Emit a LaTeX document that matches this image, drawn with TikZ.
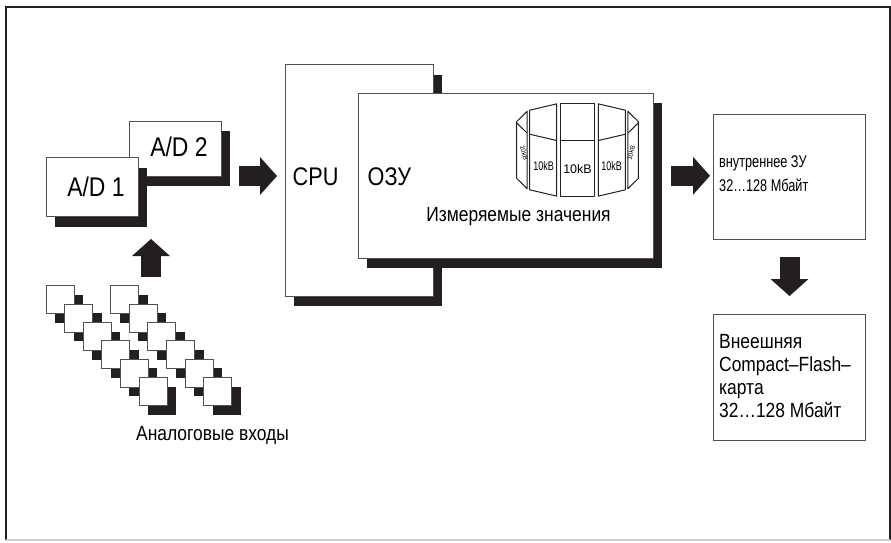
\documentclass[tikz,border=0pt]{standalone}
\usepackage{fontspec}
\setmainfont{Liberation Sans}[FakeStretch=0.85]
\newfontfamily\kbfont{Liberation Sans}
\usetikzlibrary{arrows.meta,shadows}
\definecolor{ink}{HTML}{231F20}
\definecolor{edge}{HTML}{505050}
\begin{document}
\begin{tikzpicture}[x=1pt, y=-1pt,
	box/.style={draw=edge, line width=1pt, fill=white, inner sep=0pt, outer sep=0pt, anchor=north west},
	shadowed/.style={box, drop shadow={shadow xshift=9pt, shadow yshift=-10pt, fill=ink, opacity=1}},
	cell/.style={box, minimum size=28pt, drop shadow={shadow xshift=9pt, shadow yshift=-9pt, fill=ink, opacity=1}},
	big/.style={font=\fontsize{25.5}{30}\selectfont, inner sep=0pt},
	txt/.style={font=\fontsize{20.5}{23}\selectfont, inner sep=0pt},
	small txt/.style={font=\fontsize{17}{24}\selectfont, inner sep=0pt, xscale=0.88},
	kb/.style={font=\kbfont\fontsize{12.5}{14}\selectfont, inner sep=0pt},
	tiny kb/.style={font=\kbfont\fontsize{6.5}{7}\selectfont, inner sep=0pt},
	drum/.style={draw=ink, line width=1pt, line join=round},
	fat/.style={draw=ink, line width=20pt, -{Triangle[length=17pt, width=38pt, line width=0pt]}}]
	\useasboundingbox (0,0) rectangle (891,543);
	\draw[line width=2pt, ink] (5.5,540) -- (5.5,7.5) -- (890,7.5) -- (890,540);
	\draw[line width=1.5pt, gray!40] (5.5,540) -- (890,540);
	\node[shadowed, minimum width=92pt, minimum height=55pt] (ad2) at (129,121) {};
	\node[big, font=\fontsize{27}{30}\selectfont] (ad2text) at ([xshift=4pt, yshift=2pt]ad2.center) {A/D 2};
	\node[shadowed, minimum width=92pt, minimum height=59pt] (ad1) at (46,157.7) {};
	\node[big, font=\fontsize{27}{30}\selectfont] (ad1text) at ([xshift=4pt]ad1.center) {A/D 1};
	\node[shadowed, minimum width=148pt, minimum height=231pt] (cpu) at (285,65) {};
	\node[big, anchor=west] (cputext) at (292.5,176.7) {CPU};
	\node[shadowed, minimum width=295pt, minimum height=165pt] (ram) at (358.3,93.3) {};
	\node[big, anchor=west] (ramtext) at (367.5,176.5) {ОЗУ};
	\foreach \i in {0,...,4}{
		\pgfmathsetmacro\ta{36*\i+2}
		\pgfmathsetmacro\tb{36*\i+34}
		\draw[drum] ({577.5+60.8*cos(\ta)},{122.2-19.5*sin(\ta)}) -- ({577.5+60.8*cos(\tb)},{122.2-19.5*sin(\tb)})
			-- ({577.5+60.8*cos(\tb)},{177.8+19.5*sin(\tb)}) -- ({577.5+60.8*cos(\ta)},{177.8+19.5*sin(\ta)}) -- cycle;
		\draw[drum] ({577.5+60.8*cos(\ta)},{122.2+19.5*sin(\ta)}) -- ({577.5+60.8*cos(\tb)},{122.2+19.5*sin(\tb)});
	}
	\node[tiny kb, rotate=75] (kb0) at (631,153) {10kB};
	\node[kb, xscale=0.72] (kb1) at (611.5,166) {10kB};
	\node[kb] (kb2) at (577.5,169.5) {10kB};
	\node[kb, xscale=0.72] (kb3) at (543.5,166) {10kB};
	\node[tiny kb, rotate=-75] (kb4) at (524,153) {10kB};
	\node[txt] (meas) at (518.5,216.7) {Измеряемые значения};
	\node[box, minimum width=152pt, minimum height=125.5pt] (int) at (713.5,114) {};
	\node[small txt, anchor=base west, align=left] (inttext) at (719,191) {внутреннее ЗУ\\32…128 Мбайт};
	\node[box, minimum width=152pt, minimum height=126pt] (ext) at (713.5,314.3) {};
	\node[txt, anchor=base west, align=left] (exttext) at (719,417) {Внеешняя\\Compact–Flash–\\карта\\32…128 Мбайт};
	\foreach \c/\x in {1/46,2/110.7}{
		\foreach \k in {0,...,5}{
			\node[cell] (in-\c-\k) at ({\x+18.6*\k},{285.7+18.4*\k}) {};
	}}
	\node[txt] (inlabel) at (212.5,435.7) {Аналоговые входы};
	\coordinate (inp) at (151,285.7);
	\draw[fat, shorten <=9pt, shorten >=22.3pt] (inp) -- (inp |- ad1.south);
	\draw[fat, shorten <=18pt, shorten >=8pt] (ad2.south east) -- (cpu.west |- ad2.south east);
	\draw[fat, shorten <=17.5pt, shorten >=3.5pt] (ram.east) -- (int.west |- ram.east);
	\draw[fat, shorten <=17.2pt, shorten >=18.3pt] (int.south) -- (ext.north);
\end{tikzpicture}
\end{document}
